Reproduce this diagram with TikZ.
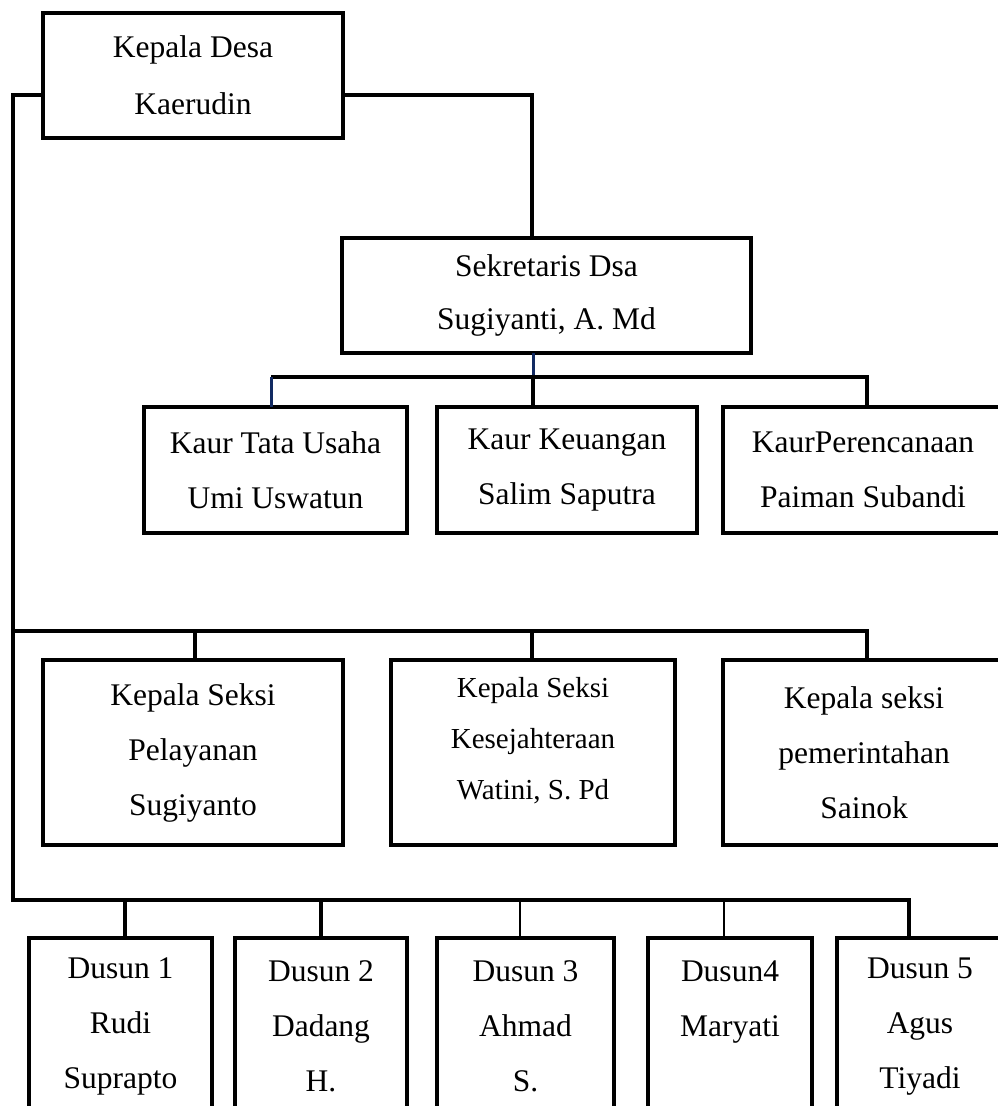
\documentclass[tikz,border=0pt]{standalone}
\usepackage{fontspec}
\setmainfont{Liberation Serif}
\usepackage{tikz}
\usetikzlibrary{positioning}
\definecolor{linknavy}{RGB}{18,42,98}

\begin{document}
\begin{tikzpicture}[
  x=1pt, y=-1pt,
  box/.style={rectangle, draw, line width=4pt, outer sep=0pt, inner sep=0pt, align=center, font=\fontsize{31.5}{55}\selectfont},
  link/.style={line width=4pt},
  thinlink/.style={line width=1.3pt},
  navylink/.style={draw=linknavy, line width=3pt},
]
\useasboundingbox (0,0) rectangle (998,1106);
\clip (0,0) rectangle (998,1106);

% Kepala Desa
\node[box, minimum width=300pt, minimum height=125pt, font=\fontsize{31.5}{57}\selectfont] (kades) at (193,75.5) {Kepala Desa\\Kaerudin};
\node[box, minimum width=409pt, minimum height=115pt, font=\fontsize{31.5}{53}\selectfont] (sek) at (546.5,295.5) {Sekretaris Dsa\\Sugiyanti, A. Md};

% Kaur
\node[box, minimum width=263pt, minimum height=126pt] (kaur1) at (275.5,470) {Kaur Tata Usaha\\Umi Uswatun};
\node[box, minimum width=260pt, minimum height=126pt, right=30pt of kaur1] (kaur2) {Kaur Keuangan\\Salim Saputra};
\node[box, minimum width=280pt, minimum height=126pt, right=26pt of kaur2] (kaur3) {KaurPerencanaan\\Paiman Subandi};

% Kepala Seksi
\node[box, minimum width=300pt, minimum height=185pt] (seksi1) at (193,752.5) {Kepala Seksi\\Pelayanan\\Sugiyanto};
\node[box, minimum width=284pt, minimum height=185pt, right=48pt of seksi1, font=\fontsize{29}{51}\selectfont, text depth=29pt] (seksi2) {Kepala Seksi\\Kesejahteraan\\Watini, S. Pd};
\node[box, minimum width=282pt, minimum height=185pt, right=48pt of seksi2] (seksi3) {Kepala seksi\\pemerintahan\\Sainok};

% Dusun
\node[box, minimum width=183pt, minimum height=177pt] (dusun1) at (120.5,1026.5) {Dusun 1\\Rudi\\Suprapto};
\node[box, minimum width=172pt, minimum height=177pt, right=23pt of dusun1] (dusun2) {Dusun 2\\Dadang\\H.};
\node[box, minimum width=177pt, minimum height=177pt, right=30pt of dusun2] (dusun3) {Dusun 3\\Ahmad\\S.};
\node[box, minimum width=164pt, minimum height=177pt, right=34pt of dusun3] (dusun4) {Dusun4\\Maryati\\\mbox{}};
\node[box, minimum width=166pt, minimum height=177pt, right=25pt of dusun4] (dusun5) {Dusun 5\\Agus\\Tiyadi};

% Lines
\coordinate (sp1) at (13,95);
\coordinate (sp3) at (13,900);
\coordinate (rt) at (532,95);
\coordinate (kb1) at (271,377);
\coordinate (kb2) at (533,377);
\coordinate (kb3) at (867,377);
\coordinate (sb0) at (13,631);
\coordinate (sb1) at (195,631);
\coordinate (sb2) at (532,631);
\coordinate (sb3) at (867,631);
\coordinate (db1) at (125,900);
\coordinate (db2) at (321,900);
\coordinate (db3) at (520,900);
\coordinate (db4) at (724,900);
\coordinate (db5) at (909,900);

\draw[link] (kades.west |- sp1) -- (sp1) -- (sp3) -- (db5) -- (db5 |- dusun5.north);
\draw[link] (kades.east |- rt) -- (rt) -- (rt |- sek.north);

\draw[navylink] (sek.south -| kb2) -- (kb2);
\draw[link] (kb1) -- (kb3) -- (kb3 |- kaur3.north);
\draw[link] (kb2) -- (kb2 |- kaur2.north);
\draw[navylink] (kb1) -- (kb1 |- kaur1.north);

\draw[link] (sb0) -- (sb3) -- (sb3 |- seksi3.north);
\draw[link] (sb1) -- (sb1 |- seksi1.north);
\draw[link] (sb2) -- (sb2 |- seksi2.north);

\draw[link] (db1) -- (db1 |- dusun1.north);
\draw[link] (db2) -- (db2 |- dusun2.north);
\draw[thinlink] (db3) -- (db3 |- dusun3.north);
\draw[thinlink] (db4) -- (db4 |- dusun4.north);
\end{tikzpicture}
\end{document}
